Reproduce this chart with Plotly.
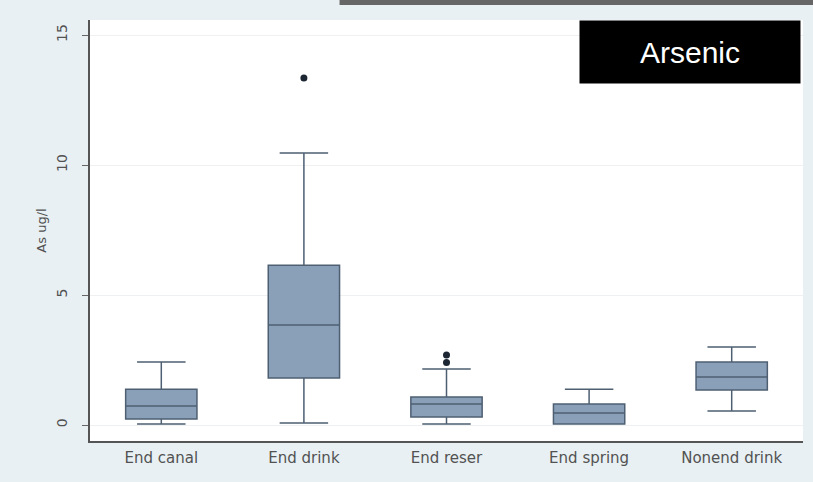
import plotly.graph_objects as go

# Arsenic concentration (ug/l) by water source
categories = ["End canal", "End drink", "End reser", "End spring", "Nonend drink"]
lower_whisker = [0.04, 0.08, 0.04, 0.04, 0.54]
q1_vals = [0.23, 1.81, 0.31, 0.04, 1.35]
median_vals = [0.73, 3.85, 0.81, 0.46, 1.85]
q3_vals = [1.38, 6.15, 1.08, 0.81, 2.42]
upper_whisker = [2.42, 10.46, 2.15, 1.38, 3.00]

outlier_cats = ["End drink", "End reser", "End reser"]
outlier_vals = [13.35, 2.69, 2.40]

y_ticks = [0, 5, 10, 15]

box_fill = "#8aa0b9"
box_line = "#4e5f72"
outer_bg = "#e8f0f3"
text_grey = "#525252"

fig = go.Figure()

fig.add_trace(go.Box(
    x=categories,
    q1=q1_vals,
    median=median_vals,
    q3=q3_vals,
    lowerfence=lower_whisker,
    upperfence=upper_whisker,
    fillcolor=box_fill,
    line=dict(color=box_line, width=1.5),
    whiskerwidth=0.68,
    boxpoints=False,
    width=0.5,
    showlegend=False,
    hoverinfo="skip",
))

fig.add_trace(go.Scatter(
    x=outlier_cats,
    y=outlier_vals,
    mode="markers",
    marker=dict(color="#1c2733", size=7),
    showlegend=False,
    hoverinfo="skip",
))

# Dark strip along the top edge
fig.add_shape(type="rect", xref="paper", yref="paper",
              x0=0.35, x1=1.02, y0=1.0 + 15 / 421, y1=1.1,
              fillcolor="#666666", line=dict(width=0), layer="above")

# Black title tag in the upper right corner
fig.add_annotation(
    xref="paper", yref="paper",
    x=(690 - 90) / 713, y=(441 - 52) / 421,
    text="Arsenic", showarrow=False,
    font=dict(family="Liberation Sans, Arial", size=30, color="white"),
    bgcolor="black", width=218, height=60,
    xanchor="center", yanchor="middle",
)

fig.update_layout(
    width=813, height=482,
    margin=dict(l=90, r=10, t=20, b=41),
    paper_bgcolor=outer_bg,
    plot_bgcolor="white",
    font=dict(family="DejaVu Sans, Verdana", color=text_grey),
    xaxis=dict(
        type="category",
        categoryorder="array", categoryarray=categories,
        range=[-0.5, 4.5],
        showline=True, linecolor="#555555", linewidth=1.5,
        showgrid=False, ticks="",
        ticklabelstandoff=2,
        tickfont=dict(size=15, color=text_grey),
        mirror=False,
    ),
    yaxis=dict(
        range=[-0.615, 15.58],
        tickvals=y_ticks,
        ticks="outside", ticklen=6, tickcolor="#666666",
        tickangle=-90,
        ticklabelstandoff=10,
        tickfont=dict(size=14, color=text_grey),
        showline=True, linecolor="#555555", linewidth=1.5,
        showgrid=True, gridcolor="#eef0f2", gridwidth=1,
        zeroline=False,
        title=dict(text="As ug/l", font=dict(size=13, color=text_grey), standoff=4),
    ),
)

fig.write_html("out.html")
